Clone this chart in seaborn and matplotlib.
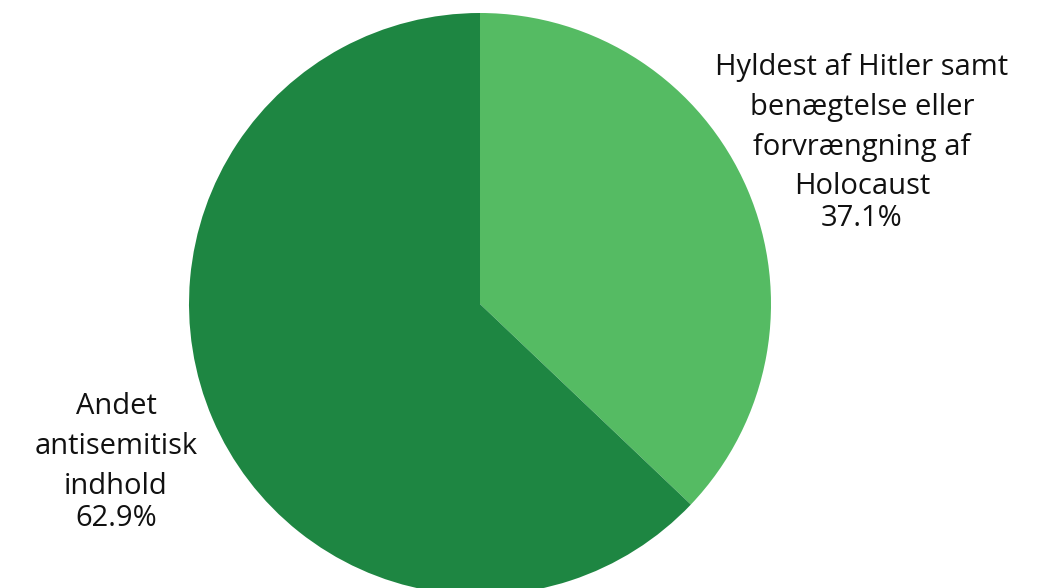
import matplotlib
matplotlib.use("Agg")
import matplotlib.pyplot as plt
import seaborn as sns

labels = ["Hyldest af Hitler samt\nbenægtelse eller\nforvrængning af\nHolocaust",
          "Andet\nantisemitisk\nindhold"]
values = [37.1, 62.9]
pct_labels = ["37.1%", "62.9%"]
colors = ["#55BB63", "#1E8642"]

sns.set_theme(style="white")
plt.rcParams['font.family'] = ['Open Sans', 'DejaVu Sans']

W, H = 1038, 588
cx, cy, R = 480, 304, 291
fig = plt.figure(figsize=(W/100, H/100), dpi=100)
ax = fig.add_axes([0, 0, 1, 1])
ax.pie(values, colors=colors, startangle=90, counterclock=False,
       radius=1, center=(0, 0), wedgeprops=dict(linewidth=0))
ax.set_xlim(-cx / R, (W - cx) / R)
ax.set_ylim(-(H - cy) / R, cy / R)
ax.set_aspect('equal')
ax.axis('off')

def fx(px):
    return px / W

def fy(py):
    return 1 - py / H

# label positions (pixel centers)
label_pos = [(862, 127), (116, 446)]
pct_pos = [(862, 218), (116, 518)]
for lab, pct, (lx, ly), (px, py) in zip(labels, pct_labels, label_pos, pct_pos):
    fig.text(fx(lx), fy(ly), lab, ha='center', va='center', fontsize=21,
             linespacing=1.5, color='#111111')
    fig.text(fx(px), fy(py), pct, ha='center', va='center', fontsize=21,
             color='#111111')

fig.savefig("out.png", dpi=100)
